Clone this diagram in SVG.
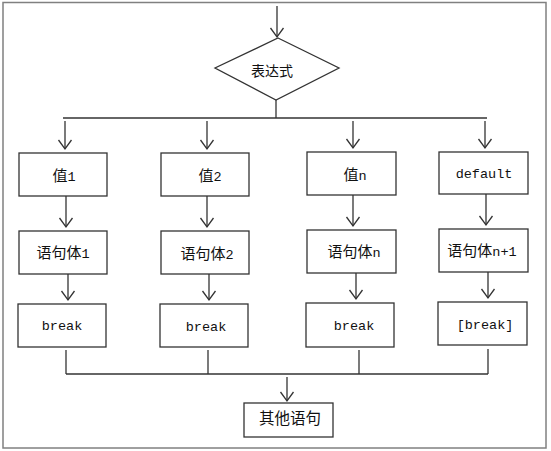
<svg xmlns="http://www.w3.org/2000/svg" width="551" height="451" viewBox="0 0 551 451">
<style>
.bg{fill:#ffffff}
.frame{fill:none;stroke:#808080;stroke-width:1.5}
.box{fill:#ffffff;stroke:#333333;stroke-width:1.3}
.ln{fill:none;stroke:#333333;stroke-width:1.3}
.arr{marker-end:url(#ah)}
text{fill:#111111;text-anchor:middle}
.c{font-family:"Noto Sans CJK SC","Noto Sans",sans-serif;font-size:15px}
.m{font-family:"Liberation Mono","DejaVu Sans Mono",monospace;font-size:13.5px}
</style>
<defs>
<marker id="ah" markerUnits="userSpaceOnUse" markerWidth="20" markerHeight="20" refX="0" refY="0" orient="auto" viewBox="-12 -10 14 20" overflow="visible">
<path d="M-9,-6.5 L0,0 L-9,6.5" fill="none" stroke="#333333" stroke-width="1.3"/>
</marker>
</defs>
<rect class="bg" x="0" y="0" width="551" height="451"/>
<rect class="frame" x="3" y="2.5" width="543" height="445.5"/>

<g id="connectors">
<line class="ln arr" x1="277" y1="6" x2="277" y2="37"/>
<line class="ln" x1="276" y1="100" x2="276" y2="118"/>
<line class="ln" x1="63" y1="118" x2="487" y2="118"/>
<line class="ln arr" x1="65" y1="121" x2="65" y2="149"/>
<line class="ln arr" x1="207" y1="121" x2="207" y2="149"/>
<line class="ln arr" x1="353" y1="121" x2="353" y2="148"/>
<line class="ln arr" x1="485" y1="121" x2="485" y2="148"/>
<line class="ln arr" x1="66" y1="196" x2="66" y2="227"/>
<line class="ln arr" x1="207" y1="196" x2="207" y2="227"/>
<line class="ln arr" x1="353" y1="195" x2="353" y2="226"/>
<line class="ln arr" x1="486" y1="194" x2="486" y2="225"/>
<line class="ln arr" x1="68" y1="274" x2="68" y2="300"/>
<line class="ln arr" x1="209" y1="274" x2="209" y2="300"/>
<line class="ln arr" x1="356" y1="273" x2="356" y2="299"/>
<line class="ln arr" x1="488" y1="272" x2="488" y2="298"/>
<line class="ln" x1="66" y1="350" x2="66" y2="374"/>
<line class="ln" x1="208" y1="350" x2="208" y2="374"/>
<line class="ln" x1="359" y1="350" x2="359" y2="374"/>
<line class="ln" x1="488" y1="349" x2="488" y2="374"/>
<line class="ln" x1="66" y1="374" x2="488" y2="374"/>
<line class="ln arr" x1="287" y1="377" x2="287" y2="401"/>
</g>

<g id="expr">
<polygon class="box" points="278,38 339,68 276,100 215,68"/>
<text x="272" y="75.5" class="c" style="font-size:14px">表达式</text>
</g>

<g id="v1"><rect class="box" x="19" y="153" width="88" height="43"/>
<text x="64" y="181"><tspan class="c">值</tspan><tspan class="m">1</tspan></text></g>
<g id="v2"><rect class="box" x="161" y="153" width="88" height="43"/>
<text x="210" y="181"><tspan class="c">值</tspan><tspan class="m">2</tspan></text></g>
<g id="vn"><rect class="box" x="307" y="152" width="89" height="43"/>
<text x="355" y="180"><tspan class="c">值</tspan><tspan class="m">n</tspan></text></g>
<g id="vd"><rect class="box" x="439" y="152" width="89" height="42"/>
<text x="484" y="178" class="m">default</text></g>

<g id="s1"><rect class="box" x="19" y="231" width="88" height="43"/>
<text x="63" y="258"><tspan class="c">语句体</tspan><tspan class="m">1</tspan></text></g>
<g id="s2"><rect class="box" x="161" y="231" width="88" height="43"/>
<text x="207" y="259"><tspan class="c">语句体</tspan><tspan class="m">2</tspan></text></g>
<g id="sn"><rect class="box" x="307" y="230" width="89" height="43"/>
<text x="354" y="257"><tspan class="c">语句体</tspan><tspan class="m">n</tspan></text></g>
<g id="sd"><rect class="box" x="439" y="229" width="89" height="43"/>
<text x="482" y="256"><tspan class="c">语句体</tspan><tspan class="m">n+1</tspan></text></g>

<g id="b1"><rect class="box" x="18" y="304" width="88" height="43"/>
<text x="62" y="330" class="m">break</text></g>
<g id="b2"><rect class="box" x="160" y="304" width="88" height="43"/>
<text x="206" y="331" class="m">break</text></g>
<g id="bn"><rect class="box" x="306" y="303" width="88" height="44"/>
<text x="354" y="330" class="m">break</text></g>
<g id="bd"><rect class="box" x="438" y="302" width="89" height="43"/>
<text x="485" y="329" class="m">[break]</text></g>

<g id="other"><rect class="box" x="244" y="403" width="89" height="34"/>
<text x="290" y="424" class="c" style="font-size:15.5px">其他语句</text></g>
</svg>
